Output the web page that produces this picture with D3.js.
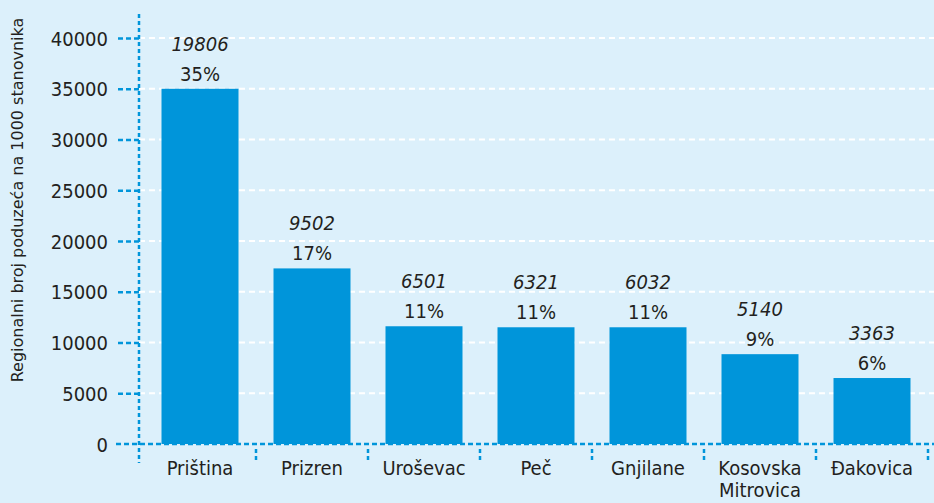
<!DOCTYPE html>
<html lang="hr">
<head>
<meta charset="UTF-8">
<title>Regionalni broj poduzeća</title>
<script src="https://cdn.jsdelivr.net/npm/d3@7"></script>
<style>
    body { margin: 0; background: #dcf0fb; }
    svg text {
        font-family: "DejaVu Sans Condensed", "DejaVu Sans", sans-serif;
        font-stretch: condensed;
        fill: #231f20;
    }
    svg text.ytitle {
        font-family: "DejaVu Sans", sans-serif;
        font-stretch: normal;
    }
</style>
</head>
<body>
<svg id="chart" width="934" height="503"></svg>
<script>
    // data
    let cities = ["Priština", "Prizren", "Uroševac", "Peč", "Gnjilane", "Kosovska Mitrovica", "Đakovica"]
    let barValues = [35000, 17300, 11600, 11500, 11500, 8850, 6500]
    let counts = ["19806", "9502", "6501", "6321", "6032", "5140", "3363"]
    let shares = ["35%", "17%", "11%", "11%", "11%", "9%", "6%"]
    let yTicks = [0, 5000, 10000, 15000, 20000, 25000, 30000, 35000, 40000]

    let blue = "#0095da"
    let fs = 20
    let svg = d3.select("#chart")

    let x = d3.scaleBand()
        .domain(cities)
        .range([144, 928])
        .paddingInner(0.3125)
        .paddingOuter(0.15625)

    let y = d3.scaleLinear()
        .domain([0, 40000])
        .range([444, 38])

    // white grid lines
    svg.append("g")
        .selectAll("line")
        .data(yTicks.filter(d => d > 0))
        .enter()
        .append("line")
        .attr("x1", 139).attr("x2", 934)
        .attr("y1", d => y(d)).attr("y2", d => y(d))
        .attr("stroke", "white")
        .attr("stroke-width", 2)
        .attr("stroke-dasharray", "6,4")

    // bars
    svg.append("g")
        .selectAll("rect")
        .data(cities)
        .enter()
        .append("rect")
        .attr("x", d => x(d))
        .attr("width", x.bandwidth())
        .attr("y", (d, i) => y(barValues[i]))
        .attr("height", (d, i) => y(0) - y(barValues[i]))
        .attr("fill", blue)

    // y axis
    let yAxis = svg.append("g")
        .attr("transform", "translate(139,0)")
        .call(d3.axisLeft(y).tickValues(yTicks).tickSize(23).tickPadding(8).tickFormat(d3.format("d")))
    yAxis.select(".domain").remove()
    yAxis.selectAll(".tick line")
        .attr("stroke", blue)
        .attr("stroke-width", 2.5)
        .attr("stroke-dasharray", "5,3")
        .filter(d => d === 0).remove()
    yAxis.selectAll(".tick text")
        .attr("font-size", fs)
        .attr("dy", "0.36em")

    // dotted axis lines
    svg.append("line")
        .attr("x1", 139).attr("x2", 139)
        .attr("y1", 14).attr("y2", 463)
        .attr("stroke", blue).attr("stroke-width", 2.5)
        .attr("stroke-dasharray", "4,3")
    svg.append("line")
        .attr("x1", 116).attr("x2", 934)
        .attr("y1", y(0)).attr("y2", y(0))
        .attr("stroke", blue).attr("stroke-width", 2.5)
        .attr("stroke-dasharray", "5,3")

    // separators between categories
    let seps = cities.slice(1).map(c => x(c) - x.step() * x.paddingInner() / 2)
    seps.push(x(cities[cities.length - 1]) + x.bandwidth() + x.step() * x.paddingInner() / 2)
    svg.append("g")
        .selectAll("line")
        .data(seps)
        .enter()
        .append("line")
        .attr("x1", d => d).attr("x2", d => d)
        .attr("y1", 449).attr("y2", 463)
        .attr("stroke", blue).attr("stroke-width", 2.5)
        .attr("stroke-dasharray", "4,3")

    // category labels
    let cat = svg.append("g")
        .selectAll("text")
        .data(cities)
        .enter()
        .append("text")
        .attr("x", d => x(d) + x.bandwidth() / 2)
        .attr("y", 475)
        .attr("text-anchor", "middle")
        .attr("font-size", fs)
    cat.each(function (d) {
        let words = d === "Kosovska Mitrovica" ? ["Kosovska", "Mitrovica"] : [d]
        d3.select(this).selectAll("tspan")
            .data(words)
            .enter()
            .append("tspan")
            .attr("x", x(d) + x.bandwidth() / 2)
            .attr("dy", (w, i) => i === 0 ? 0 : 22)
            .text(w => w)
    })

    // value labels
    svg.append("g")
        .selectAll("text")
        .data(cities)
        .enter()
        .append("text")
        .attr("x", d => x(d) + x.bandwidth() / 2)
        .attr("y", (d, i) => y(barValues[i]) - 38)
        .attr("text-anchor", "middle")
        .attr("font-size", fs)
        .attr("font-style", "italic")
        .text((d, i) => counts[i])

    svg.append("g")
        .selectAll("text")
        .data(cities)
        .enter()
        .append("text")
        .attr("x", d => x(d) + x.bandwidth() / 2)
        .attr("y", (d, i) => y(barValues[i]) - 8)
        .attr("text-anchor", "middle")
        .attr("font-size", fs)
        .text((d, i) => shares[i])

    // y axis title
    svg.append("text")
        .attr("class", "ytitle")
        .attr("transform", "translate(23,200) rotate(-90)")
        .attr("text-anchor", "middle")
        .attr("font-size", 16)
        .text("Regionalni broj poduzeća na 1000 stanovnika")
</script>
</body>
</html>
